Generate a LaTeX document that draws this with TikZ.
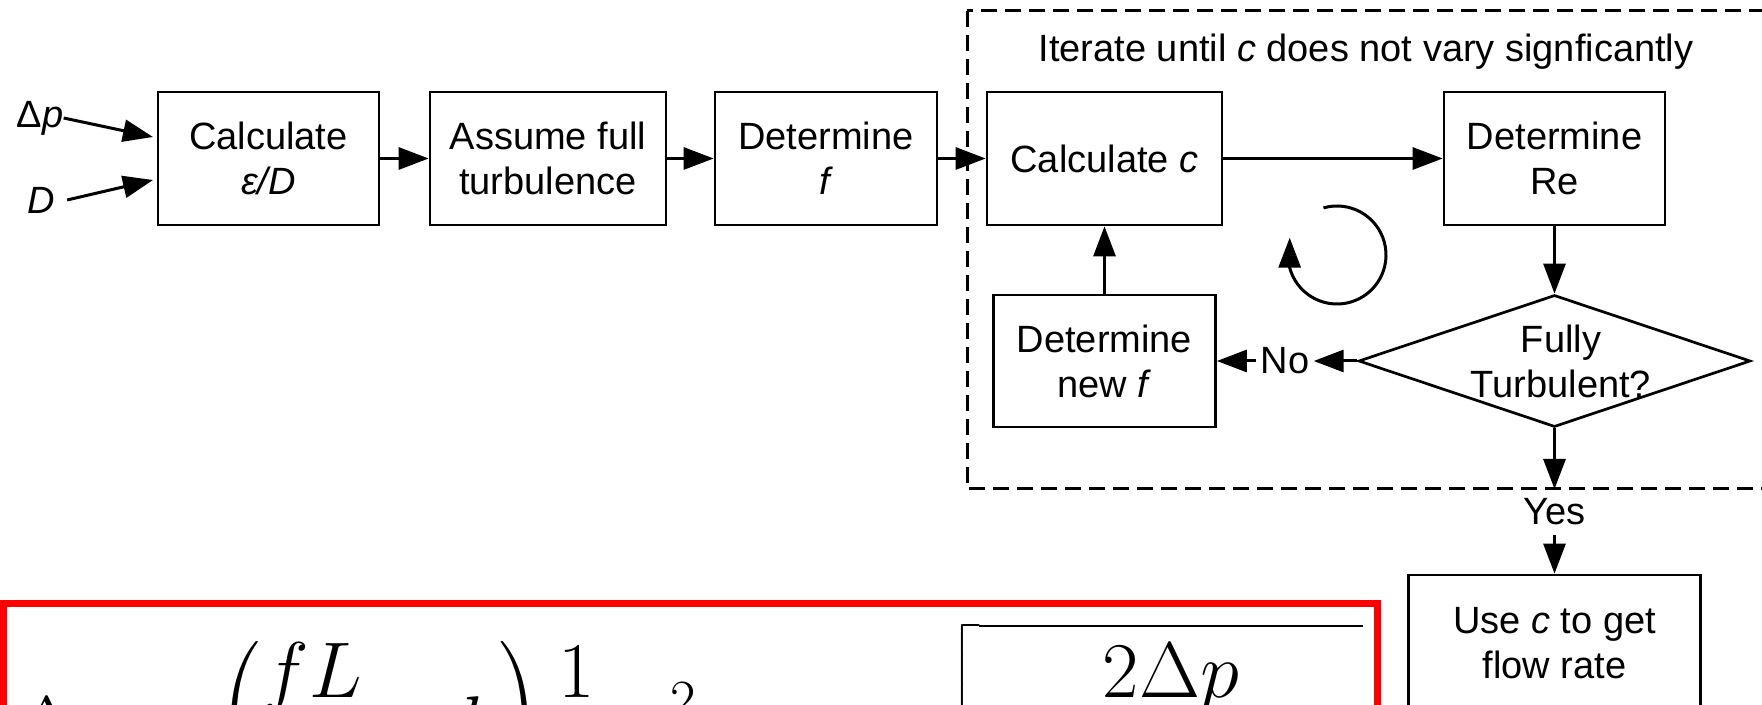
\RequirePackage{fix-cm}
\documentclass[tikz,border=0pt]{standalone}
\usepackage[no-math]{fontspec}
\usepackage{amsmath}
\setmainfont{Liberation Sans}
\usetikzlibrary{arrows.meta,shapes.geometric}

\begin{document}
\begin{tikzpicture}[x=0.5pt,y=-0.5pt,
  every node/.style={font=\fontsize{19}{22.5}\selectfont, align=center},
  box/.style={draw, line width=1.35pt, inner sep=0pt, minimum height=66.5pt},
  arr/.style={line width=1.5pt, -{Triangle[length=15pt,width=11pt]}},
  lbl/.style={inner sep=0pt},
  eq/.style={anchor=base west, inner sep=0pt, font=\fontsize{39.5}{47}\selectfont},
]
\useasboundingbox[fill=white] (0,0) rectangle (1762,705);
\clip (0,0) rectangle (1762,705);

% main chain
\node[box, minimum width=110.5pt] (calc) at (268.5,158.5) {Calculate\\\textit{ε/D}};
\node[box, minimum width=118pt] (assume) at (548,158.5) {Assume full\\turbulence};
\node[box, minimum width=111pt] (detf) at (826,158.5) {Determine\\\textit{f}};
\node[box, minimum width=117.5pt] (calcc) at (1104.5,158.5) {Calculate \textit{c}};
\node[box, minimum width=110.5pt] (detre) at (1554.5,158.5) {Determine\\Re};
\node[box, minimum width=111pt, minimum height=66pt] (newf) at (1104.5,361) {Determine\\new \textit{f}};
\node[diamond, draw, line width=1.35pt, minimum width=196pt, minimum height=66pt, inner sep=0pt] (turb) at (1554.5,361) {};
\node[lbl] (turbtext) at (1561,361) {Fully\\Turbulent?};
\node[box, minimum width=146pt, minimum height=68pt] (use) at (1554.5,643) {Use \textit{c} to get\\flow rate};

% inputs
\node[lbl] (dp) at (40,118) {Δ\textit{p}};
\node[lbl] (dd) at (41,200) {\textit{D}};
\coordinate (in1) at (153,137);
\coordinate (in2) at (153,180);
\draw[arr] (dp.east) -- (in1);
\draw[arr] ([xshift=6pt]dd.east) -- (in2);

% iteration frame
\draw[line width=1.5pt, dash pattern=on 8pt off 4pt] (967,11) rectangle (1800,489);
\node[lbl] (title) at (1366,52) {Iterate until \textit{c} does not vary signficantly};

% connectors
\draw[arr] (calc) -- (assume);
\draw[arr] (assume) -- (detf);
\draw[arr] (detf) -- (calcc);
\draw[arr] (calcc) -- (detre);
\draw[arr] (detre) -- (turb);
\draw[arr] (newf) -- (calcc);
\node[lbl, inner sep=2pt] (no) at (1285,361) {No};
\draw[arr] (turb.west) -- (no.east);
\draw[arr] (no.west) -- (newf.east);
\coordinate (exit) at (1554.5,489);
\draw[arr] (turb.south) -- (exit);
\node[inner sep=5pt, anchor=base] (yes) at (1554.5,524) {Yes};
\draw[arr] (yes.south) -- (use.north);

% loop symbol
\coordinate (loopc) at (1337,255);
\draw[line width=1.5pt, -{Triangle[length=15pt,width=11pt]}]
  ([shift={(-106:49)}]loopc) arc[start angle=-106, end angle=165, radius=49] -- ++(0,-30);

% formula panel
\draw[red, line width=3.5pt] (3.5,603.5) rectangle (1377.5,900);
\node[eq] (eqdp) at (16,751) {$\displaystyle \Delta p=\left(\frac{fL}{d}+k\right)\frac{1}{2}\rho c^{2}$};
\node[eq] (eqc) at (792,751) {$\displaystyle c=\sqrt{\frac{2\Delta p}{\rho\left(\dfrac{fL}{d}+k\right)}}$};
\end{tikzpicture}
\end{document}
